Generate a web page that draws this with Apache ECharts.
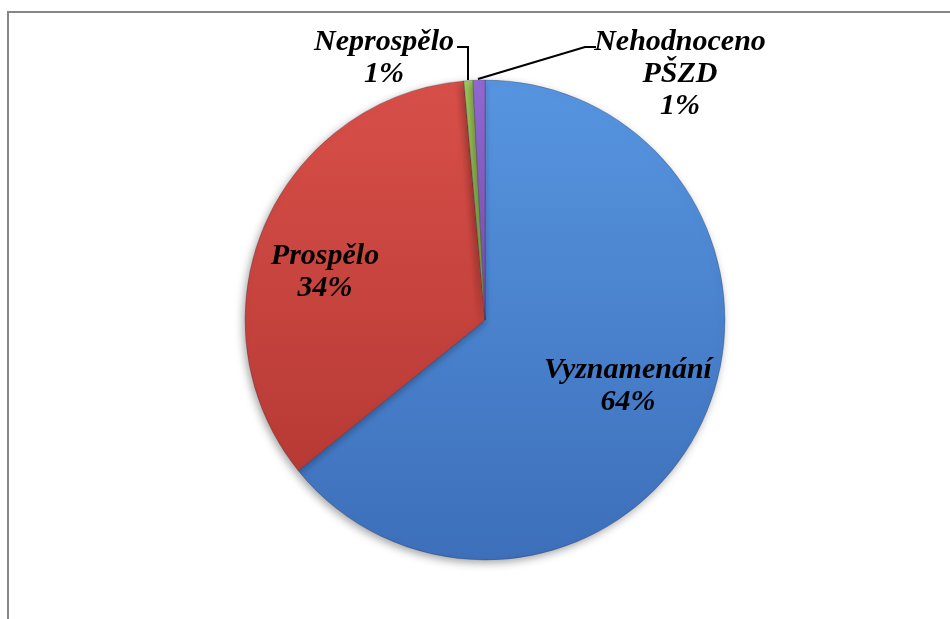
<!DOCTYPE html>
<html>
<head>
<meta charset="utf-8">
<script src="https://cdn.jsdelivr.net/npm/echarts@6/dist/echarts.min.js"></script>
<style>
html,body{margin:0;padding:0;background:#fff;}
#chart{width:950px;height:619px;}
</style>
</head>
<body>
<div id="chart"></div>
<script>
// Data (percent shares)
var categories = ['Vyznamenání', 'Prospělo', 'Neprospělo', 'Nehodnoceno PŠZD'];
var values = [64.2, 34.4, 0.6, 0.8];

// Styling
var colors = [
  ['#5795E0', '#3D6FBA'],
  ['#D84F49', '#B83A35'],
  ['#A2CC5E', '#86AD45'],
  ['#9268D2', '#7450A8']
];
// label centres (layout only)
var labelPos = [[628, 386], [325, 272], [384, 58], [680, 74]];
var leaderPts = [null, null, [[468, 80], [468, 47], [457, 47]], [[478, 79], [585, 47], [596, 47]]];

var chart = echarts.init(document.getElementById('chart'), null, {renderer: 'canvas'});

var data = categories.map(function (c, i) {
  var small = i >= 2;
  return {
    name: c,
    value: values[i],
    itemStyle: {
      color: new echarts.graphic.LinearGradient(0, 0, 0, 1, [
        {offset: 0, color: colors[i][0]},
        {offset: 1, color: colors[i][1]}
      ])
    },
    label: {position: small ? 'outside' : 'inside'},
    labelLine: {show: small, lineStyle: {color: '#000', width: 2}}
  };
});

chart.setOption({
  animation: false,
  graphic: [{
    type: 'rect',
    shape: {x: 8, y: 12, width: 1200, height: 1200},
    style: {fill: 'none', stroke: '#878787', lineWidth: 2},
    silent: true
  }],
  series: [{
    type: 'pie',
    center: [485, 320],
    radius: [0, 240],
    startAngle: 90,
    clockwise: true,
    avoidLabelOverlap: false,
    data: data,
    itemStyle: {
      borderColor: 'rgba(40,40,60,0.35)',
      borderWidth: 0.8,
      shadowBlur: 8,
      shadowColor: 'rgba(0,0,0,0.35)',
      shadowOffsetX: -2,
      shadowOffsetY: 3
    },
    label: {
      show: true,
      color: '#000',
      fontFamily: 'Liberation Serif',
      fontStyle: 'italic',
      fontWeight: 'bold',
      fontSize: 30,
      lineHeight: 32,
      align: 'center',
      textBorderWidth: 0,
      formatter: function (p) {
        return p.name.replace(' ', '\n') + '\n' + Math.round(p.percent) + '%';
      }
    },
    labelLayout: function (p) {
      var i = p.dataIndex;
      var o = {x: labelPos[i][0], y: labelPos[i][1], align: 'center', verticalAlign: 'middle'};
      if (leaderPts[i]) o.labelLinePoints = leaderPts[i];
      return o;
    }
  }]
});
</script>
</body>
</html>
